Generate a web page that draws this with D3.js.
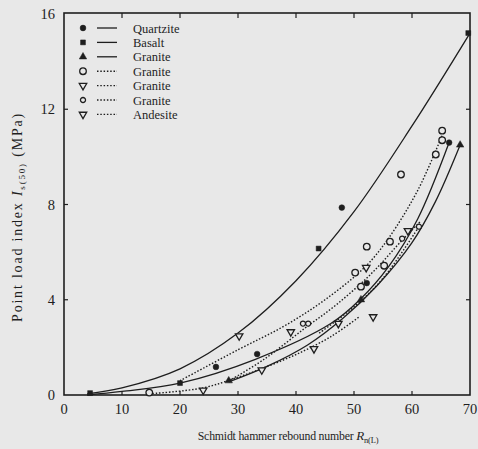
<!DOCTYPE html>
<html>
<head>
<meta charset="utf-8">
<script src="https://cdn.jsdelivr.net/npm/d3@7"></script>
<style>
  body { margin: 0; background: #e8e8e8; }
  svg { display: block; font-family: "Liberation Serif", "DejaVu Serif", serif; }
</style>
</head>
<body>
<svg id="chart" width="478" height="449"></svg>
<script>
// tick values
const xTicks = [0, 10, 20, 30, 40, 50, 60, 70];
const yTicks = [0, 4, 8, 12, 16];

// fitted curves
const basaltCurve = [[4, 0.05], [10, 0.3], [20, 1.1], [30, 2.6], [40, 4.8], [50, 7.7], [60, 11.3], [70, 15.2]];
const quartziteCurve = [[4, 0], [10, 0.15], [20, 0.5], [33, 1.5], [46, 3.0], [51, 4.0], [56, 5.4], [61, 7.4], [66.4, 10.6]];
const graniteSolidCurve = [[28.4, 0.55], [35, 1.2], [42, 2.1], [48, 3.2], [54, 4.6], [60, 6.4], [64, 8.1], [68.3, 10.5]];
const graniteCircleCurve = [[20, 0.6], [30, 1.9], [38, 2.9], [45, 4.0], [52, 5.4], [56, 6.6], [61, 8.6], [65.2, 10.9]];
const graniteTriCurve = [[14.7, 0.05], [24, 0.3], [30, 0.75], [34, 1.1], [40, 1.7], [46, 2.45], [51, 3.3]];
const graniteHexCurve = [[28.5, 0.6], [34.5, 1.5], [41.5, 2.8], [47, 3.8], [53, 5.1], [58.3, 6.5], [61.5, 7.3]];
const andesiteCurve = [[44, 2.6], [50, 3.7], [55, 4.9], [61.2, 7.07]];

// measured points
const quartzitePts = [[26.2, 1.18], [33.3, 1.72], [47.9, 7.87], [52.2, 4.7], [66.4, 10.6]];
const basaltPts = [[4.5, 0.08], [20, 0.5], [43.9, 6.15], [69.7, 15.2]];
const graniteSolidPts = [[28.4, 0.6], [51.2, 4.0], [68.3, 10.5]];
const graniteCirclePts = [[14.7, 0.1], [50.2, 5.14], [51.2, 4.55], [52.2, 6.23], [55.2, 5.43], [56.2, 6.44], [58.1, 9.26], [64.1, 10.1], [65.2, 10.7], [65.2, 11.1]];
const graniteTriPts = [[24, 0.2], [34.1, 1.05], [43.1, 1.94], [53.3, 3.28]];
const graniteHexPts = [[41.2, 3.0], [42.1, 3.0], [58.3, 6.57], [61.2, 7.07]];
const andesitePts = [[30.2, 2.48], [39.1, 2.65], [47.3, 3.0], [52.1, 5.35], [59.3, 6.9]];

const legendNames = ["Quartzite", "Basalt", "Granite", "Granite", "Granite", "Granite", "Andesite"];

const ink = "#1e1e1e";
const paper = "#e8e8e8";

const svg = d3.select("#chart");

const x = d3.scaleLinear().domain([0, 70]).range([64, 470]);
const y = d3.scaleLinear().domain([0, 16]).range([395, 14]);

// series setup: marker kind, filled or not, dashed or not
const dots = "1.5,1.8";
const series = [
  { name: legendNames[0], curve: quartziteCurve, pts: quartzitePts, sym: d3.symbolCircle, size: 26, fill: true, dash: null },
  { name: legendNames[1], curve: basaltCurve, pts: basaltPts, sym: d3.symbolSquare, size: 24, fill: true, dash: null },
  { name: legendNames[2], curve: graniteSolidCurve, pts: graniteSolidPts, sym: d3.symbolTriangle, size: 24, fill: true, dash: null },
  { name: legendNames[3], curve: graniteCircleCurve, pts: graniteCirclePts, sym: d3.symbolCircle, size: 34, fill: false, dash: dots },
  { name: legendNames[4], curve: graniteTriCurve, pts: graniteTriPts, sym: d3.symbolTriangle, size: 24, fill: false, dash: dots, flip: true },
  { name: legendNames[5], curve: graniteHexCurve, pts: graniteHexPts, sym: d3.symbolCircle, size: 20, fill: false, dash: dots },
  { name: legendNames[6], curve: andesiteCurve, pts: andesitePts, sym: d3.symbolTriangle, size: 24, fill: false, dash: dots, flip: true }
];

// frame
svg.append("rect")
  .attr("x", x(0)).attr("y", y(16) - 1)
  .attr("width", x(70) - x(0)).attr("height", y(0) - y(16) + 1)
  .attr("fill", "none").attr("stroke", ink).attr("stroke-width", 1.6);

// inward ticks on all four sides
const tick = 4;
const tk = svg.append("g").attr("stroke", ink).attr("stroke-width", 1.2);
xTicks.slice(1, -1).forEach(v => {
  tk.append("line").attr("x1", x(v)).attr("x2", x(v)).attr("y1", y(0)).attr("y2", y(0) - tick);
  tk.append("line").attr("x1", x(v)).attr("x2", x(v)).attr("y1", y(16) - 1).attr("y2", y(16) + tick);
});
yTicks.slice(1, -1).forEach(v => {
  tk.append("line").attr("x1", x(0)).attr("x2", x(0) + tick).attr("y1", y(v)).attr("y2", y(v));
  tk.append("line").attr("x1", x(70)).attr("x2", x(70) - tick).attr("y1", y(v)).attr("y2", y(v));
});

// tick labels
svg.append("g").selectAll("text")
  .data(xTicks)
  .join("text")
    .attr("x", d => x(d))
    .attr("y", 414)
    .attr("text-anchor", "middle")
    .attr("font-size", 14.5)
    .attr("fill", ink)
    .text(d => d);

svg.append("g").selectAll("text")
  .data(yTicks)
  .join("text")
    .attr("x", 55)
    .attr("y", d => y(d) + 5)
    .attr("text-anchor", "end")
    .attr("font-size", 14.5)
    .attr("fill", ink)
    .text(d => d);

// axis titles
const xt = svg.append("text")
  .attr("x", 288).attr("y", 440)
  .attr("text-anchor", "middle")
  .attr("font-size", 11.8)
  .attr("letter-spacing", -0.2)
  .attr("fill", ink);
xt.append("tspan").text("Schmidt hammer rebound number ");
xt.append("tspan").attr("font-style", "italic").attr("font-size", 13).text("R");
xt.append("tspan").attr("font-size", 8.5).attr("dy", 3).text("n(L)");

const yt = svg.append("text")
  .attr("transform", "translate(22,217) rotate(-90)")
  .attr("text-anchor", "middle")
  .attr("font-size", 14)
  .attr("letter-spacing", 1.8)
  .attr("fill", ink);
yt.append("tspan").text("Point load index ");
yt.append("tspan").attr("font-style", "italic").text("I");
yt.append("tspan").attr("font-size", 9).attr("dy", 3).text("s(50)");
yt.append("tspan").attr("dy", -3).text("\u00a0(MPa)");

// curves
const line = d3.line()
  .x(d => x(d[0]))
  .y(d => y(d[1]))
  .curve(d3.curveCatmullRom.alpha(0.5));

svg.append("g").selectAll("path")
  .data(series)
  .join("path")
    .attr("d", d => line(d.curve))
    .attr("fill", "none")
    .attr("stroke", ink)
    .attr("stroke-width", d => d.dash ? 1.4 : 1.3)
    .attr("stroke-dasharray", d => d.dash);

// markers
function drawMarker(g, s, px, py) {
  g.append("path")
    .attr("d", d3.symbol().type(s.sym).size(s.size)())
    .attr("transform", `translate(${px},${py})` + (s.flip ? " rotate(180)" : ""))
    .attr("fill", s.fill ? ink : paper)
    .attr("stroke", ink)
    .attr("stroke-width", s.fill ? 0.5 : 1.3);
}

const marks = svg.append("g");
series.forEach(s => {
  s.pts.forEach(p => drawMarker(marks, s, x(p[0]), y(p[1])));
});

// legend
const leg = svg.append("g");
series.forEach((s, i) => {
  const ly = 28 + i * 14.4;
  drawMarker(leg, s, 83, ly);
  leg.append("line")
    .attr("x1", 97).attr("x2", 117)
    .attr("y1", ly).attr("y2", ly)
    .attr("stroke", ink)
    .attr("stroke-width", s.dash ? 1.4 : 1.3)
    .attr("stroke-dasharray", s.dash);
  leg.append("text")
    .attr("x", 133).attr("y", ly + 4.5)
    .attr("font-size", 12.5)
    .attr("fill", ink)
    .text(s.name);
});
</script>
</body>
</html>
